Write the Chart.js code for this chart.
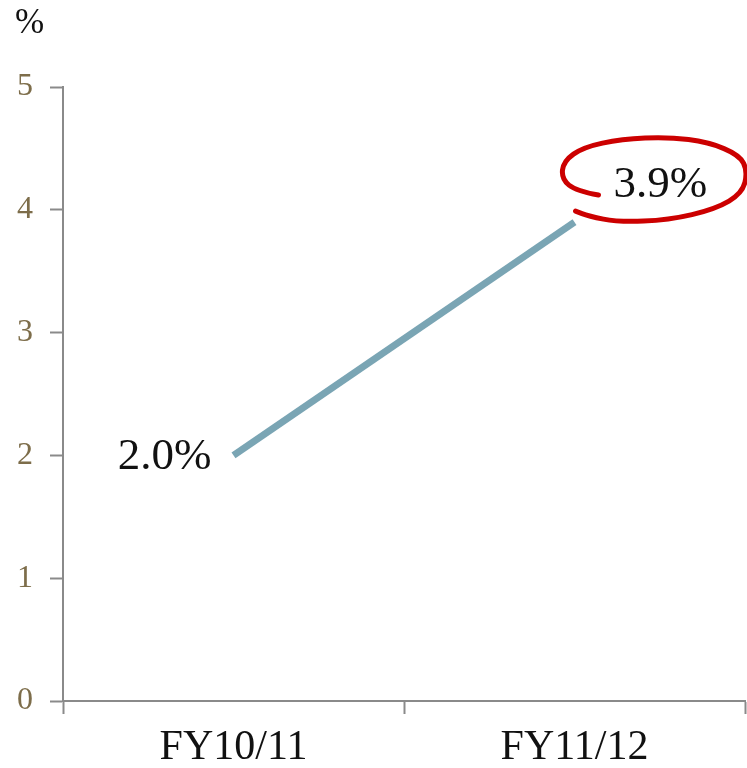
<!DOCTYPE html>
<html>
<head>
<meta charset="utf-8">
<script src="https://cdn.jsdelivr.net/npm/chart.js@4"></script>
<style>
  html, body { margin: 0; padding: 0; background: #fff; }
  #wrap { width: 747px; height: 768px; }
</style>
</head>
<body>
<div id="wrap"><canvas id="c" width="747" height="768"></canvas></div>
<script>
const categories = ['FY10/11', 'FY11/12'];
const values = [2.0, 3.9];
const valueLabels = ['2.0%', '3.9%'];
const yTicks = [0, 1, 2, 3, 4, 5];

const FONT = "'Liberation Serif', 'DejaVu Serif', serif";
const AXIS_GREY = '#8a8a8a';

// Value labels, the "%" unit and the hand-drawn loop around the latest value
const annotate = {
  id: 'annotate',
  afterDatasetsDraw(chart) {
    const ctx = chart.ctx;
    const meta = chart.getDatasetMeta(0);
    const p0 = meta.data[0], p1 = meta.data[1];
    ctx.save();
    ctx.fillStyle = '#111';
    ctx.font = '45px ' + FONT;
    ctx.textBaseline = 'middle';
    ctx.textAlign = 'right';
    ctx.fillText(valueLabels[0], p0.x - 22, p0.y + 2);
    ctx.textAlign = 'left';
    const lx = p1.x + 39, ly = p1.y - 37;
    ctx.fillText(valueLabels[1], lx, ly);

    // loose red loop around the 3.9% label
    const cx = lx + 46, cy = ly;
    const pts = [
      [-61, 10], [-83, 6], [-98, -6], [-96, -24], [-76, -38], [-38, -46],
      [9, -48], [49, -43], [80, -30], [88, -14], [83, 8], [56, 24],
      [9, 35], [-41, 37], [-71, 31], [-84, 26]
    ].map(([dx, dy]) => [cx + dx, cy + dy]);
    ctx.strokeStyle = '#cc0000';
    ctx.lineWidth = 5;
    ctx.lineCap = 'round';
    ctx.lineJoin = 'round';
    ctx.beginPath();
    ctx.moveTo(pts[0][0], pts[0][1]);
    for (let i = 1; i < pts.length - 1; i++) {
      const mx = (pts[i][0] + pts[i + 1][0]) / 2;
      const my = (pts[i][1] + pts[i + 1][1]) / 2;
      ctx.quadraticCurveTo(pts[i][0], pts[i][1], mx, my);
    }
    const last = pts[pts.length - 1];
    ctx.lineTo(last[0], last[1]);
    ctx.stroke();

    // unit above the value axis
    ctx.fillStyle = '#111';
    ctx.font = '35px ' + FONT;
    ctx.textAlign = 'left';
    ctx.textBaseline = 'middle';
    ctx.fillText('%', 15, 24);
    ctx.restore();
  }
};

new Chart(document.getElementById('c'), {
  type: 'line',
  data: {
    labels: categories,
    datasets: [{
      data: values,
      borderColor: '#7aa5b4',
      borderWidth: 7,
      borderCapStyle: 'butt',
      pointRadius: 0,
      pointHoverRadius: 0,
      tension: 0,
      fill: false
    }]
  },
  options: {
    responsive: false,
    animation: false,
    events: [],
    layout: { padding: { top: 87, right: 2, left: 0, bottom: 0 } },
    plugins: { legend: { display: false }, tooltip: { enabled: false } },
    scales: {
      x: {
        type: 'category',
        offset: true,
        grid: {
          offset: true,
          drawOnChartArea: false,
          drawTicks: true,
          tickLength: 13,
          tickWidth: 2,
          tickColor: AXIS_GREY
        },
        border: { display: true, color: AXIS_GREY, width: 2 },
        ticks: {
          color: '#111',
          font: { family: FONT, size: 42 },
          padding: 9,
          maxRotation: 0
        },
        afterFit(scale) { scale.height = 67; }
      },
      y: {
        min: 0,
        max: 5,
        afterBuildTicks(scale) { scale.ticks = yTicks.map(v => ({ value: v })); },
        grid: {
          drawOnChartArea: false,
          drawTicks: true,
          tickLength: 13,
          tickWidth: 2,
          tickColor: AXIS_GREY
        },
        border: { display: true, color: AXIS_GREY, width: 2 },
        ticks: {
          color: '#7d6d4a',
          font: { family: FONT, size: 32 },
          padding: 17
        },
        afterFit(scale) { scale.width = 63; }
      }
    }
  },
  plugins: [annotate]
});
</script>
</body>
</html>
